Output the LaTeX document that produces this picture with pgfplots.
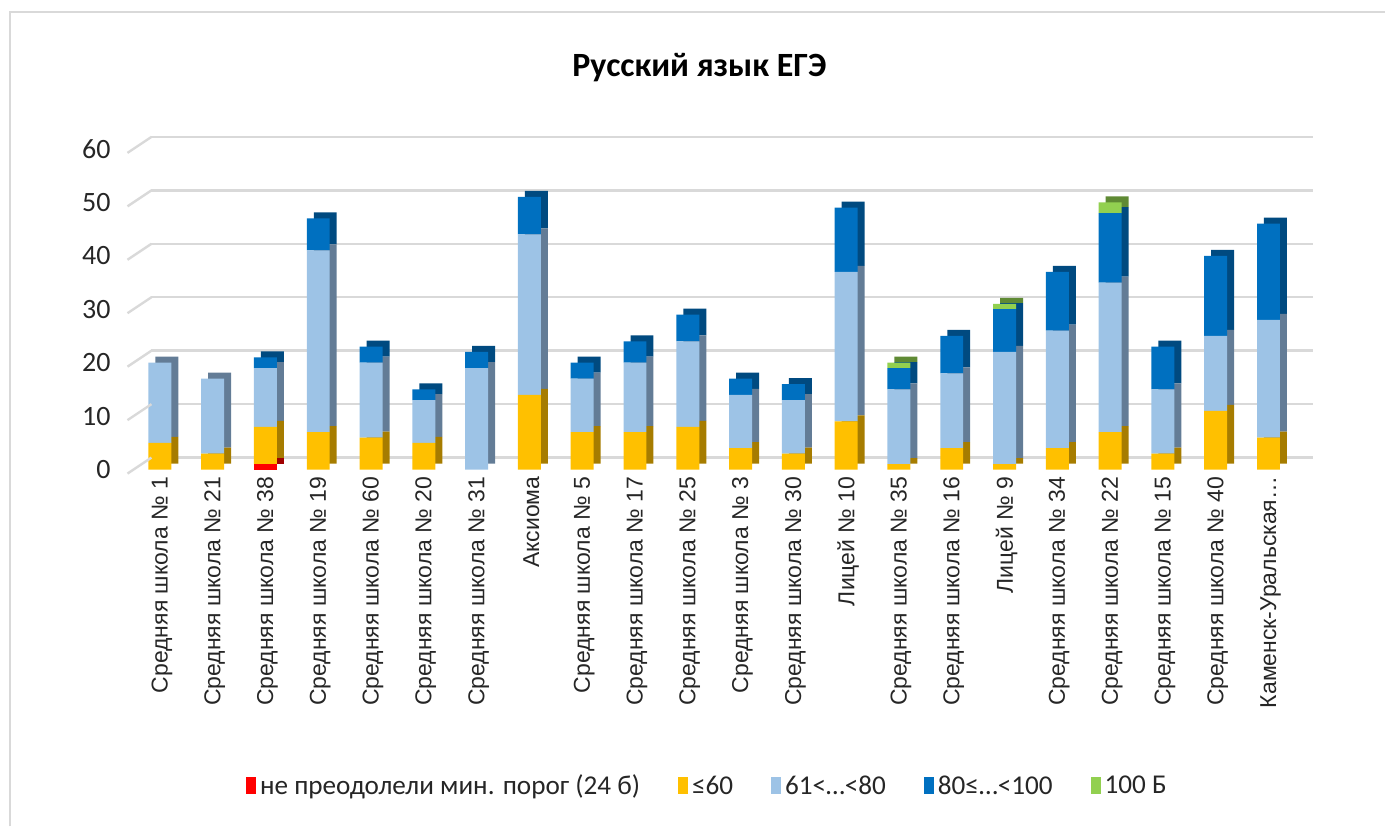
\documentclass[border=0pt]{standalone}
\usepackage{fontspec}
\setmainfont{Carlito}
\newfontfamily\arialf{Liberation Sans}
\usepackage{pgfplots}
\usepackage{pgfplotstable}
\pgfplotsset{compat=1.18}
\definecolor{cred}{HTML}{FF0000}
\definecolor{cyel}{HTML}{FFC000}
\definecolor{clb}{HTML}{9DC3E6}
\definecolor{cbl}{HTML}{0070C0}
\definecolor{cgr}{HTML}{92D050}
\definecolor{dred}{HTML}{A00000}
\definecolor{dyel}{HTML}{A67C00}
\definecolor{dlb}{HTML}{637C96}
\definecolor{dbl}{HTML}{004A80}
\definecolor{dgr}{HTML}{5F8A34}
\definecolor{gridc}{HTML}{D9D9D9}
\definecolor{txt}{HTML}{262626}
\pgfplotstableread{
x red yel lb bl gr
0 0 5 15 0 0
1 0 3 14 0 0
2 1 7 11 2 0
3 0 7 34 6 0
4 0 6 14 3 0
5 0 5 8 2 0
6 0 0 19 3 0
7 0 14 30 7 0
8 0 7 10 3 0
9 0 7 13 4 0
10 0 8 16 5 0
11 0 4 10 3 0
12 0 3 10 3 0
13 0 9 28 12 0
14 0 1 14 4 1
15 0 4 14 7 0
16 0 1 21 8 1
17 0 4 22 11 0
18 0 7 28 13 2
19 0 3 12 8 0
20 0 11 14 15 0
21 0 6 22 18 0
}\data
\pgfplotsset{
  base/.style={
    scale only axis, width=581.2pt, height=160.5pt,
    xmin=-0.5, xmax=21.5, ymin=0, ymax=60,
    anchor=south west, axis line style={draw=none},
    major tick length=0pt,
  },
  bars/.style={ybar stacked, bar width=11.5pt},
}
\begin{document}
\begin{tikzpicture}
\path (0,0) rectangle (693pt,413.5pt);
\draw[gridc, line width=1.2pt] (5pt,0pt) -- (5pt,407.5pt) -- (693pt,407.5pt);
\node[font=\bfseries\fontsize{17}{20}\selectfont, text=black] at (350pt,379.5pt) {Русский язык ЕГЭ};
% back wall grid
\begin{axis}[base, at={(75.8pt,184.5pt)}, ymajorgrids, ytick={0,10,20,30,40,50,60}, yticklabels={},
  major grid style={gridc, line width=1.2pt}, xtick=\empty, clip=false]
\addplot[draw=none] coordinates {(0,0)};
\end{axis}
% side faces
\begin{axis}[base, bars, at={(70.3pt,181.5pt)}, xtick=\empty, ytick=\empty]
\addplot[fill=dred, draw=none] table[x=x,y=red]{\data};
\addplot[fill=dyel, draw=none] table[x=x,y=yel]{\data};
\addplot[fill=dlb, draw=none] table[x=x,y=lb]{\data};
\addplot[fill=dbl, draw=none] table[x=x,y=bl]{\data};
\addplot[fill=dgr, draw=none] table[x=x,y=gr]{\data};
\end{axis}
% front
\begin{axis}[base, bars, at={(66.8pt,178.5pt)}, clip=false,
  ytick={0,10,20,30,40,50,60}, yticklabel style={font=\fontsize{14}{16}\selectfont, text=txt, xshift=-8pt},
  /pgf/number format/assume math mode=true,
  xtick=data,
  xticklabels={Средняя школа № 1, Средняя школа № 21, Средняя школа № 38, Средняя школа № 19, Средняя школа № 60, Средняя школа № 20, Средняя школа № 31, Аксиома, Средняя школа № 5, Средняя школа № 17, Средняя школа № 25, Средняя школа № 3, Средняя школа № 30, Лицей № 10, Средняя школа № 35, Средняя школа № 16, Лицей № 9, Средняя школа № 34, Средняя школа № 22, Средняя школа № 15, Средняя школа № 40, {Каменск-Уральская…}},
  xticklabel style={rotate=90, anchor=east, font=\arialf\fontsize{11.5}{13}\selectfont, text=txt, yshift=-1pt},
  legend style={at={(0.495,-0.988)}, anchor=center, draw=none, fill=none, legend columns=5,
    font=\fontsize{13.6}{16}\selectfont, text=txt,
    /tikz/every even column/.append style={column sep=17pt}},
  legend image code/.code={\fill[#1] (0pt,-4pt) rectangle (5pt,4.5pt);},
]
\pgfplotsinvokeforeach{0,10,20,30,40,50,60}{\draw[gridc, line width=1.2pt] (axis cs:-0.5,#1) ++(-3pt,-2pt) -- ++(12pt,8pt);}
\addplot[fill=cred, draw=none] table[x=x,y=red]{\data};
\addplot[fill=cyel, draw=none] table[x=x,y=yel]{\data};
\addplot[fill=clb, draw=none] table[x=x,y=lb]{\data};
\addplot[fill=cbl, draw=none] table[x=x,y=bl]{\data};
\addplot[fill=cgr, draw=none] table[x=x,y=gr]{\data};
\legend{не преодолели мин. порог (24 б), ≤60, {61<…<80}, {80≤…<100}, 100 Б}
\end{axis}
\end{tikzpicture}
\end{document}
